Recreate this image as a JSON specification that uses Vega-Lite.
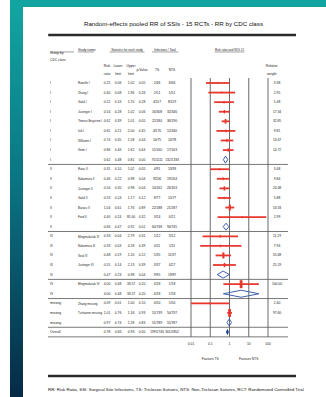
{
  "$schema": "https://vega.github.io/schema/vega-lite/v6.json",
  "padding": {"left": 10, "top": 0, "right": 0, "bottom": 0},
  "background": "white",
  "spacing": 0,
  "bounds": "flush",
  "config": {
    "view": {"stroke": null},
    "axis": {"disable": true},
    "legend": {"disable": true},
    "text": {"font": "Liberation Sans, Arial, sans-serif", "color": "#222", "baseline": "middle", "fontSize": 3.3}
  },
  "datasets": {
    "studies": [
      {"row": 0, "kind": "study", "grp": "I", "study": "Rozelle I", "rr": 0.25, "ll": 0.06, "ul": 1.02, "p": 0.05, "ts": "2/46", "nts": "8/46", "w": 3.38},
      {"row": 1, "kind": "study", "grp": "I", "study": "Zhang I", "rr": 0.40, "ll": 0.08, "ul": 1.96, "p": 0.26, "ts": "2/51", "nts": "5/51", "w": 2.95},
      {"row": 2, "kind": "study", "grp": "I", "study": "Galal I", "rr": 0.52, "ll": 0.16, "ul": 1.70, "p": 0.28, "ts": "4/117", "nts": "8/119", "w": 5.48},
      {"row": 3, "kind": "study", "grp": "I", "study": "Justinger I", "rr": 0.54, "ll": 0.28, "ul": 1.02, "p": 0.06, "ts": "16/308", "nts": "32/346", "w": 17.34},
      {"row": 4, "kind": "study", "grp": "I", "study": "Thimour-Bergström I", "rr": 0.62, "ll": 0.39, "ul": 1.01, "p": 0.05, "ts": "22/184", "nts": "36/190", "w": 32.85},
      {"row": 5, "kind": "study", "grp": "I", "study": "Isik I", "rr": 0.65, "ll": 0.21, "ul": 2.00, "p": 0.45, "ts": "4/170", "nts": "12/340", "w": 9.81},
      {"row": 6, "kind": "study", "grp": "I", "study": "Williams I", "rr": 0.74, "ll": 0.35, "ul": 1.58, "p": 0.44, "ts": "10/75", "nts": "14/78", "w": 13.47},
      {"row": 7, "kind": "study", "grp": "I", "study": "Seim I", "rr": 0.86, "ll": 0.46, "ul": 1.62, "p": 0.64, "ts": "15/160", "nts": "17/163", "w": 14.72},
      {"row": 8, "kind": "summary", "grp": "I", "study": "", "rr": 0.62, "ll": 0.48, "ul": 0.81, "p": 0.00, "ts": "75/1111", "nts": "132/1333"},
      {"row": 9, "kind": "study", "grp": "II", "study": "Rasic II", "rr": 0.31, "ll": 0.10, "ul": 1.02, "p": 0.05, "ts": "4/91", "nts": "13/93", "w": 3.48},
      {"row": 10, "kind": "study", "grp": "II", "study": "Nakamura II", "rr": 0.46, "ll": 0.22, "ul": 0.98, "p": 0.04, "ts": "9/206", "nts": "19/204", "w": 9.84},
      {"row": 11, "kind": "study", "grp": "II", "study": "Justinger II", "rr": 0.54, "ll": 0.30, "ul": 0.98, "p": 0.04, "ts": "14/162", "nts": "26/163", "w": 24.48},
      {"row": 12, "kind": "study", "grp": "II", "study": "Galal II", "rr": 0.53, "ll": 0.24, "ul": 1.17, "p": 0.12, "ts": "8/77", "nts": "15/77", "w": 5.88},
      {"row": 13, "kind": "study", "grp": "II", "study": "Baracs II", "rr": 1.04, "ll": 0.61, "ul": 1.76, "p": 0.89, "ts": "22/188", "nts": "21/187", "w": 53.33},
      {"row": 14, "kind": "study", "grp": "II", "study": "Ford II", "rr": 4.40, "ll": 0.24, "ul": 81.0, "p": 0.32, "ts": "3/24", "nts": "0/21", "w": 2.99},
      {"row": 15, "kind": "summary", "grp": "II", "study": "", "rr": 0.66, "ll": 0.47, "ul": 0.92, "p": 0.01, "ts": "60/748", "nts": "94/745"},
      {"row": 16, "kind": "study", "grp": "III", "study": "Mingmalairak III", "rr": 0.33, "ll": 0.04, "ul": 2.79, "p": 0.31, "ts": "1/12", "nts": "3/12", "w": 11.19},
      {"row": 17, "kind": "study", "grp": "III", "study": "Nakamura III", "rr": 0.33, "ll": 0.03, "ul": 4.18, "p": 0.39, "ts": "0/11", "nts": "1/11", "w": 7.94},
      {"row": 18, "kind": "study", "grp": "III", "study": "Seal III", "rr": 0.48, "ll": 0.19, "ul": 1.20, "p": 0.12, "ts": "5/35", "nts": "11/37", "w": 55.68},
      {"row": 19, "kind": "study", "grp": "III", "study": "Justinger III", "rr": 0.55, "ll": 0.14, "ul": 2.13, "p": 0.39, "ts": "3/37", "nts": "4/27", "w": 25.19},
      {"row": 20, "kind": "summary", "grp": "III", "study": "", "rr": 0.47, "ll": 0.23, "ul": 0.98, "p": 0.04, "ts": "9/95", "nts": "19/87"},
      {"row": 21, "kind": "study", "grp": "IV", "study": "Mingmalairak IV", "rr": 4.00, "ll": 0.48, "ul": 33.57, "p": 0.20, "ts": "4/18", "nts": "1/18", "w": 100.0},
      {"row": 22, "kind": "summary", "grp": "IV", "study": "", "rr": 4.00, "ll": 0.48, "ul": 33.57, "p": 0.20, "ts": "4/18", "nts": "1/18"},
      {"row": 23, "kind": "study", "grp": "missing", "study": "Zhang missing", "rr": 0.09, "ll": 0.005, "ul": 1.00, "p": 0.10, "ts": "0/50", "nts": "5/50", "w": 2.40},
      {"row": 24, "kind": "study", "grp": "missing", "study": "Turtiainen missing", "rr": 1.01, "ll": 0.76, "ul": 1.34, "p": 0.93, "ts": "51/739", "nts": "50/737", "w": 97.60},
      {"row": 25, "kind": "summary", "grp": "missing", "study": "", "rr": 0.97, "ll": 0.74, "ul": 1.28, "p": 0.83, "ts": "51/789", "nts": "55/787"},
      {"row": 26, "kind": "overall", "grp": "Overall", "study": "", "rr": 0.78, "ll": 0.66, "ul": 0.93, "p": 0.00, "ts": "199/2743", "nts": "301/2852"}
    ],
    "ticks": [
      {"v": 0.01, "lab": "0.01"},
      {"v": 0.1, "lab": "0.1"},
      {"v": 1, "lab": "1"},
      {"v": 10, "lab": "10"},
      {"v": 100, "lab": "100"}
    ]
  },
  "vconcat": [
    {
      "width": 316,
      "height": 7,
      "data": {"values": [{}]},
      "mark": {"type": "rect", "fill": "#12a4a0", "strokeWidth": 0},
      "encoding": {"x": {"value": 0}, "x2": {"value": "width"}, "y": {"value": 0}, "y2": {"value": "height"}}
    },
    {
      "spacing": 0,
      "bounds": "flush",
      "hconcat": [
        {
          "width": 13,
          "height": 390,
          "data": {"values": [{}]},
          "mark": {
            "type": "rect",
            "strokeWidth": 0,
            "fill": {
              "gradient": "linear", "x1": 0, "y1": 0, "x2": 0, "y2": 1,
              "stops": [
                {"offset": 0, "color": "#12a4a0"},
                {"offset": 0.45, "color": "#0b7482"},
                {"offset": 1, "color": "#052a46"}
              ]
            }
          },
          "encoding": {"x": {"value": 0}, "x2": {"value": "width"}, "y": {"value": 0}, "y2": {"value": "height"}}
        },
        {
          "width": 303,
          "height": 390,
          "resolve": {"scale": {"x": "independent"}},
          "layer": [
            {
              "layer": [
                {
                  "data": {"name": "studies"},
                  "mark": {"type": "text", "align": "left"},
                  "encoding": {
                    "x": {"datum": 0, "type": "quantitative", "scale": {"domain": [-1, 0, 1, 2, 3, 4, 5, 6, 7, 8, 9, 10, 11], "range": [25, 27, 55, 84, 95, 108, 119, 134, 149, 254, 265, 273, 282], "nice": false, "zero": false}},
                    "y": {"field": "row", "type": "quantitative", "scale": {"domain": [-7.933, 32.777], "reverse": true, "nice": false, "zero": false}},
                    "text": {"field": "grp"}
                  }
                },
                {
                  "data": {"name": "studies"},
                  "mark": {"type": "text", "align": "left"},
                  "encoding": {
                    "x": {"datum": 1, "type": "quantitative"},
                    "y": {"field": "row", "type": "quantitative"},
                    "text": {"field": "study"},
                    "size": {"condition": {"test": "length(datum.study) > 18", "value": 2.6}, "value": 3.0}
                  }
                },
                {
                  "data": {"name": "studies"},
                  "mark": {"type": "text", "align": "center"},
                  "encoding": {"x": {"datum": 2, "type": "quantitative"}, "y": {"field": "row", "type": "quantitative"}, "text": {"field": "rr", "type": "quantitative", "format": ".2f"}}
                },
                {
                  "data": {"name": "studies"},
                  "mark": {"type": "text", "align": "center"},
                  "encoding": {"x": {"datum": 3, "type": "quantitative"}, "y": {"field": "row", "type": "quantitative"}, "text": {"field": "ll", "type": "quantitative", "format": ".2f"}}
                },
                {
                  "data": {"name": "studies"},
                  "mark": {"type": "text", "align": "center"},
                  "encoding": {"x": {"datum": 4, "type": "quantitative"}, "y": {"field": "row", "type": "quantitative"}, "text": {"field": "ul", "type": "quantitative", "format": ".2f"}}
                },
                {
                  "data": {"name": "studies"},
                  "mark": {"type": "text", "align": "center"},
                  "encoding": {"x": {"datum": 5, "type": "quantitative"}, "y": {"field": "row", "type": "quantitative"}, "text": {"field": "p", "type": "quantitative", "format": ".2f"}}
                },
                {
                  "data": {"name": "studies"},
                  "mark": {"type": "text", "align": "center"},
                  "encoding": {"x": {"datum": 6, "type": "quantitative"}, "y": {"field": "row", "type": "quantitative"}, "text": {"field": "ts"}}
                },
                {
                  "data": {"name": "studies"},
                  "mark": {"type": "text", "align": "center"},
                  "encoding": {"x": {"datum": 7, "type": "quantitative"}, "y": {"field": "row", "type": "quantitative"}, "text": {"field": "nts"}}
                },
                {
                  "data": {"name": "studies"},
                  "transform": [{"filter": "isValid(datum.w)"}],
                  "mark": {"type": "text", "align": "center"},
                  "encoding": {"x": {"datum": 8, "type": "quantitative"}, "y": {"field": "row", "type": "quantitative"}, "text": {"field": "w", "type": "quantitative", "format": ".2f"}}
                },
                {
                  "data": {"name": "studies"},
                  "transform": [{"filter": "datum.kind !== 'study'"}],
                  "mark": {"type": "rule", "color": "#6a6a6a", "strokeWidth": 0.9, "yOffset": 4.79},
                  "encoding": {"x": {"datum": -1, "type": "quantitative"}, "x2": {"datum": 9}, "y": {"field": "row", "type": "quantitative"}}
                },
                {
                  "data": {"values": [{}]},
                  "mark": {"type": "rule", "color": "#2b2b2b", "strokeWidth": 2.5},
                  "encoding": {"x": {"datum": -0.9, "type": "quantitative"}, "x2": {"datum": 10}, "y": {"datum": -5.01, "type": "quantitative"}}
                },
                {
                  "data": {"values": [{}]},
                  "mark": {"type": "rule", "color": "#2b2b2b", "strokeWidth": 2.5},
                  "encoding": {"x": {"datum": -1, "type": "quantitative"}, "x2": {"datum": 10}, "y": {"datum": 30.58, "type": "quantitative"}}
                },
                {
                  "data": {"values": [{}]},
                  "mark": {"type": "rule", "color": "#444", "strokeWidth": 0.5},
                  "encoding": {"x": {"datum": 0, "type": "quantitative"}, "x2": {"datum": 0.857}, "y": {"datum": -3.24, "type": "quantitative"}}
                },
                {
                  "data": {"values": [{}]},
                  "mark": {"type": "rule", "color": "#444", "strokeWidth": 0.5},
                  "encoding": {"x": {"datum": 1, "type": "quantitative"}, "x2": {"datum": 1.55}, "y": {"datum": -3.24, "type": "quantitative"}}
                },
                {
                  "data": {"values": [{}]},
                  "mark": {"type": "rule", "color": "#444", "strokeWidth": 0.5},
                  "encoding": {"x": {"datum": 2.23, "type": "quantitative"}, "x2": {"datum": 5.17}, "y": {"datum": -3.24, "type": "quantitative"}}
                },
                {
                  "data": {"values": [{}]},
                  "mark": {"type": "rule", "color": "#444", "strokeWidth": 0.5},
                  "encoding": {"x": {"datum": 5.67, "type": "quantitative"}, "x2": {"datum": 7.06}, "y": {"datum": -3.24, "type": "quantitative"}}
                },
                {
                  "data": {"values": [{}]},
                  "mark": {"type": "text", "align": "center", "fontSize": 6.2, "color": "#111"},
                  "encoding": {"x": {"datum": 7.014, "type": "quantitative"}, "y": {"datum": -6.16, "type": "quantitative"}, "text": {"value": "Random-effects pooled RR of SSIs - 15 RCTs - RR by CDC class"}}
                },
                {
                  "data": {"values": [{}]},
                  "mark": {"type": "text", "align": "left", "fontSize": 4.4, "color": "#111"},
                  "encoding": {"x": {"datum": -1, "type": "quantitative"}, "y": {"datum": 32.05, "type": "quantitative"}, "text": {"value": "RR: Risk Ratio, SSI: Surgical Site Infections, TS: Triclosan Sutures, NTS: Non-Triclosan Sutures, RCT: Randomized Controlled Trial"}}
                },
                {
                  "data": {"values": [{}]},
                  "mark": {"type": "text", "align": "left", "lineHeight": 7},
                  "encoding": {"x": {"datum": 0, "type": "quantitative"}, "y": {"datum": -3.08, "type": "quantitative"}, "text": {"value": ["Group by", "CDC class"]}}
                },
                {
                  "data": {"values": [{}]},
                  "mark": {"type": "text", "align": "left"},
                  "encoding": {"x": {"datum": 1, "type": "quantitative"}, "y": {"datum": -3.44, "type": "quantitative"}, "text": {"value": "Study name"}}
                },
                {
                  "data": {"values": [{}]},
                  "mark": {"type": "text", "align": "center", "fontSize": 3.0},
                  "encoding": {"x": {"datum": 3.69, "type": "quantitative"}, "y": {"datum": -3.44, "type": "quantitative"}, "text": {"value": "Statistics for each study"}}
                },
                {
                  "data": {"values": [{}]},
                  "mark": {"type": "text", "align": "center", "fontSize": 3.0},
                  "encoding": {"x": {"datum": 6.53, "type": "quantitative"}, "y": {"datum": -3.44, "type": "quantitative"}, "text": {"value": "Infections / Total"}}
                },
                {
                  "data": {"values": [{}]},
                  "mark": {"type": "text", "align": "center", "lineHeight": 8},
                  "encoding": {"x": {"datum": 2, "type": "quantitative"}, "y": {"datum": -1.78, "type": "quantitative"}, "text": {"value": ["Risk", "ratio"]}}
                },
                {
                  "data": {"values": [{}]},
                  "mark": {"type": "text", "align": "center", "lineHeight": 8},
                  "encoding": {"x": {"datum": 3, "type": "quantitative"}, "y": {"datum": -1.78, "type": "quantitative"}, "text": {"value": ["Lower", "limit"]}}
                },
                {
                  "data": {"values": [{}]},
                  "mark": {"type": "text", "align": "center", "lineHeight": 8},
                  "encoding": {"x": {"datum": 4, "type": "quantitative"}, "y": {"datum": -1.78, "type": "quantitative"}, "text": {"value": ["Upper", "limit"]}}
                },
                {
                  "data": {"values": [{}]},
                  "mark": {"type": "text", "align": "center"},
                  "encoding": {"x": {"datum": 5, "type": "quantitative"}, "y": {"datum": -1.36, "type": "quantitative"}, "text": {"value": "p-Value"}}
                },
                {
                  "data": {"values": [{}]},
                  "mark": {"type": "text", "align": "center"},
                  "encoding": {"x": {"datum": 6, "type": "quantitative"}, "y": {"datum": -1.36, "type": "quantitative"}, "text": {"value": "TS"}}
                },
                {
                  "data": {"values": [{}]},
                  "mark": {"type": "text", "align": "center"},
                  "encoding": {"x": {"datum": 7, "type": "quantitative"}, "y": {"datum": -1.36, "type": "quantitative"}, "text": {"value": "NTS"}}
                },
                {
                  "data": {"values": [{}]},
                  "mark": {"type": "text", "align": "center", "lineHeight": 8},
                  "encoding": {"x": {"datum": 7.95, "type": "quantitative"}, "y": {"datum": -1.78, "type": "quantitative"}, "text": {"value": ["Relative", "weight"]}}
                }
              ]
            },
            {
              "layer": [
                {
                  "data": {"name": "ticks"},
                  "mark": {"type": "rule", "color": "#5a5a5a", "strokeWidth": 0.9},
                  "encoding": {
                    "x": {"field": "v", "type": "quantitative", "scale": {"type": "log", "domain": [0.01, 100], "range": [168, 245], "nice": false, "clamp": true}},
                    "y": {"datum": -0.52, "type": "quantitative"},
                    "y2": {"datum": 26.5}
                  }
                },
                {
                  "data": {"name": "ticks"},
                  "mark": {"type": "text", "align": "center"},
                  "encoding": {"x": {"field": "v", "type": "quantitative"}, "y": {"datum": 27.24, "type": "quantitative"}, "text": {"field": "lab"}}
                },
                {
                  "data": {"values": [{}]},
                  "mark": {"type": "text", "align": "center", "fontSize": 3.0},
                  "encoding": {"x": {"datum": 1, "type": "quantitative"}, "y": {"datum": -3.44, "type": "quantitative"}, "text": {"value": "Risk ratio and 95% CI"}}
                },
                {
                  "data": {"values": [{}]},
                  "mark": {"type": "rule", "color": "#444", "strokeWidth": 0.5},
                  "encoding": {"x": {"datum": 0.167, "type": "quantitative"}, "x2": {"datum": 5.98}, "y": {"datum": -3.24, "type": "quantitative"}}
                },
                {
                  "data": {"values": [{}]},
                  "mark": {"type": "text", "align": "center"},
                  "encoding": {"x": {"datum": 0.1, "type": "quantitative"}, "y": {"datum": 28.81, "type": "quantitative"}, "text": {"value": "Favours TS"}}
                },
                {
                  "data": {"values": [{}]},
                  "mark": {"type": "text", "align": "center"},
                  "encoding": {"x": {"datum": 10, "type": "quantitative"}, "y": {"datum": 28.81, "type": "quantitative"}, "text": {"value": "Favours NTS"}}
                },
                {
                  "data": {"name": "studies"},
                  "transform": [{"filter": "datum.kind === 'study'"}],
                  "mark": {"type": "rule", "color": "#e8362c", "strokeWidth": 1.8},
                  "encoding": {"x": {"field": "ll", "type": "quantitative"}, "x2": {"field": "ul"}, "y": {"field": "row", "type": "quantitative"}}
                },
                {
                  "data": {"name": "studies"},
                  "transform": [{"filter": "datum.kind === 'study'"}],
                  "mark": {"type": "point", "filled": true, "opacity": 1, "color": "#e8362c", "shape": "M-0.35,-1L0.35,-1L0.35,1L-0.35,1Z"},
                  "encoding": {
                    "x": {"field": "rr", "type": "quantitative"},
                    "y": {"field": "row", "type": "quantitative"},
                    "size": {"field": "w", "type": "quantitative", "scale": {"domain": [0, 100], "range": [3, 64]}}
                  }
                },
                {
                  "data": {"name": "studies"},
                  "transform": [{"filter": "datum.kind === 'summary'"}],
                  "mark": {"type": "rule", "color": "#3f5fae", "strokeWidth": 1, "y2Offset": -3.5},
                  "encoding": {"x": {"field": "ll", "type": "quantitative"}, "x2": {"field": "rr"}, "y": {"field": "row", "type": "quantitative"}, "y2": {"field": "row"}}
                },
                {
                  "data": {"name": "studies"},
                  "transform": [{"filter": "datum.kind === 'summary'"}],
                  "mark": {"type": "rule", "color": "#3f5fae", "strokeWidth": 1, "yOffset": -3.5},
                  "encoding": {"x": {"field": "rr", "type": "quantitative"}, "x2": {"field": "ul"}, "y": {"field": "row", "type": "quantitative"}, "y2": {"field": "row"}}
                },
                {
                  "data": {"name": "studies"},
                  "transform": [{"filter": "datum.kind === 'summary'"}],
                  "mark": {"type": "rule", "color": "#3f5fae", "strokeWidth": 1, "y2Offset": 3.5},
                  "encoding": {"x": {"field": "ll", "type": "quantitative"}, "x2": {"field": "rr"}, "y": {"field": "row", "type": "quantitative"}, "y2": {"field": "row"}}
                },
                {
                  "data": {"name": "studies"},
                  "transform": [{"filter": "datum.kind === 'summary'"}],
                  "mark": {"type": "rule", "color": "#3f5fae", "strokeWidth": 1, "yOffset": 3.5},
                  "encoding": {"x": {"field": "rr", "type": "quantitative"}, "x2": {"field": "ul"}, "y": {"field": "row", "type": "quantitative"}, "y2": {"field": "row"}}
                },
                {
                  "data": {"name": "studies"},
                  "transform": [{"filter": "datum.kind === 'overall'"}],
                  "mark": {"type": "point", "filled": true, "opacity": 1, "color": "#1d3f8f", "size": 42, "shape": "M0,-1L0.45,0L0,1L-0.45,0Z"},
                  "encoding": {"x": {"field": "rr", "type": "quantitative"}, "y": {"field": "row", "type": "quantitative"}}
                }
              ]
            }
          ]
        }
      ]
    }
  ]
}
